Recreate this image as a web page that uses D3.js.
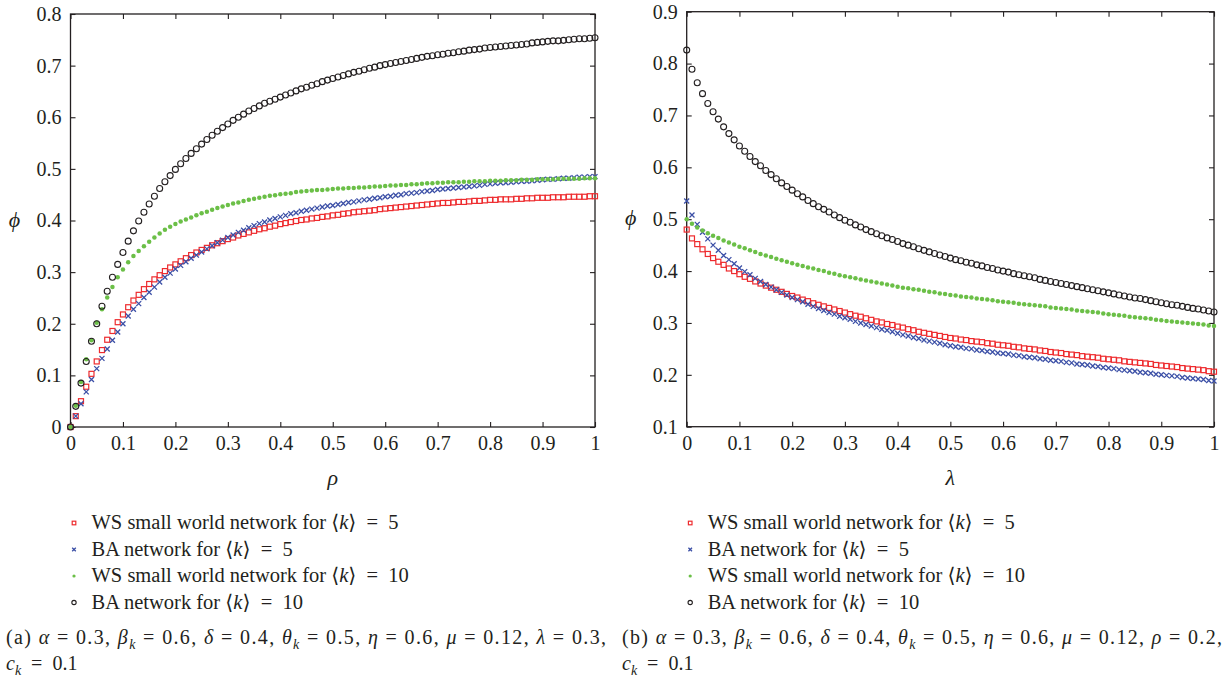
<!DOCTYPE html>
<html>
<head>
<meta charset="utf-8">
<script src="https://cdn.jsdelivr.net/npm/d3@7"></script>
<style>
  body { margin: 0; background: #fff; }
  svg text { white-space: pre; fill: #231f20; font-family: "Liberation Serif", "Times New Roman", "DejaVu Serif", serif; }
  .axis text { font-size: 20px; }
  .axis line { stroke: #231f20; stroke-width: 1.1; }
  .axis path { display: none; }
</style>
</head>
<body>
<svg id="chart" width="1229" height="682"></svg>
<script>
// x grid: 0, 0.01, ... 1 (101 samples, same for both panels)
var xs = d3.range(101).map(function(i) { return i / 100; });

// panel (a): phi vs rho
var wsK5_a = [0, .021, .050, .078, .103, .127, .149, .169, .186, .203, .218, .232, .245, .256, .267, .277, .286, .294, .302, .309, .315,
  .321, .327, .333, .338, .343, .347, .352, .356, .360, .364,
  .367, .371, .374, .377, .380, .383, .385, .388, .390, .393,
  .395, .397, .399, .401, .402, .404, .405, .407, .408, .410,
  .411, .413, .414, .416, .417, .418, .419, .420, .422, .423,
  .424, .425, .426, .427, .428, .429, .430, .431, .432, .433,
  .434, .434, .435, .436, .436, .437, .438, .438, .439, .440,
  .440, .441, .441, .441, .442, .442, .443, .443, .444, .444,
  .444, .445, .445, .445, .446, .446, .446, .446, .447, .447];
var baK5_a = [0, .021, .045, .068, .092, .113, .133, .151, .168, .184, .200, .215, .228, .239, .251, .261, .271, .281, .290, .298, .306,
  .313, .320, .327, .333, .339, .345, .351, .357, .362, .367,
  .372, .377, .381, .386, .390, .394, .397, .401, .404, .407,
  .410, .413, .415, .418, .420, .422, .424, .426, .428, .429,
  .431, .433, .435, .436, .438, .440, .441, .443, .444, .446,
  .447, .449, .450, .452, .453, .454, .456, .457, .458, .460,
  .461, .462, .463, .464, .465, .466, .467, .468, .470, .471,
  .472, .473, .473, .474, .475, .476, .476, .477, .478, .479,
  .480, .480, .481, .482, .482, .483, .484, .484, .485, .485];
var wsK10_a = [0, .041, .087, .131, .168, .202, .228, .251, .271, .290, .305, .319, .331, .341, .350, .359, .367, .375, .382, .388, .393,
  .398, .402, .406, .410, .414, .417, .421, .424, .427, .430,
  .433, .435, .438, .440, .442, .444, .446, .448, .449, .451,
  .452, .453, .455, .456, .457, .458, .459, .459, .460, .461,
  .462, .462, .463, .463, .464, .464, .465, .466, .466, .467,
  .468, .468, .469, .469, .470, .470, .471, .472, .472, .473,
  .473, .474, .474, .474, .475, .475, .476, .476, .476, .477,
  .477, .477, .478, .478, .478, .479, .479, .479, .480, .480,
  .480, .480, .481, .481, .481, .481, .481, .482, .482, .482];
var baK10_a = [0, .040, .085, .127, .166, .200, .234, .263, .290, .315, .338, .360, .380, .399, .416, .432, .447, .462, .475, .487, .499,
  .510, .520, .530, .539, .548, .557, .565, .573, .580, .587,
  .594, .600, .606, .612, .617, .622, .627, .631, .635, .639,
  .643, .647, .651, .655, .658, .662, .665, .669, .672, .675,
  .678, .681, .684, .687, .689, .692, .695, .697, .700, .702,
  .704, .706, .708, .710, .712, .714, .716, .718, .719, .721,
  .722, .724, .725, .727, .728, .730, .731, .732, .734, .735,
  .736, .737, .738, .739, .740, .741, .742, .744, .745, .746,
  .747, .748, .748, .749, .750, .751, .752, .752, .753, .754];

// panel (b): phi vs lambda
var wsK5_b = [.480, .463, .452, .442, .433, .425, .418, .412, .405, .400, .394,
  .389, .385, .380, .376, .372, .368, .364, .360, .356, .352,
  .349, .345, .342, .338, .335, .332, .329, .326, .323, .320,
  .317, .314, .312, .309, .306, .303, .301, .298, .296, .293,
  .291, .288, .286, .283, .281, .279, .277, .275, .273, .271,
  .270, .268, .267, .265, .264, .263, .261, .260, .258, .257,
  .256, .254, .253, .251, .250, .249, .247, .246, .244, .243,
  .242, .240, .239, .238, .236, .235, .234, .233, .231, .230,
  .229, .228, .226, .225, .224, .223, .222, .221, .219, .218,
  .217, .216, .215, .213, .212, .211, .210, .209, .207, .206];
var baK5_b = [.535, .508, .490, .475, .462, .450, .440, .430, .422, .414, .406,
  .399, .393, .386, .380, .374, .369, .364, .359, .354, .349,
  .345, .341, .336, .332, .328, .324, .320, .317, .313, .310,
  .307, .303, .300, .297, .294, .291, .288, .286, .283, .280,
  .277, .275, .272, .270, .267, .265, .263, .261, .258, .256,
  .254, .253, .251, .250, .248, .247, .245, .244, .242, .241,
  .240, .238, .237, .235, .234, .233, .231, .230, .228, .227,
  .226, .224, .223, .221, .220, .219, .217, .216, .214, .213,
  .212, .210, .209, .208, .207, .205, .204, .203, .201, .200,
  .199, .198, .197, .195, .194, .193, .192, .191, .189, .188];
var wsK10_b = [.500, .491, .484, .478, .473, .468, .464, .459, .455, .451, .447,
  .444, .440, .437, .433, .430, .427, .424, .421, .418, .415,
  .412, .410, .407, .405, .402, .400, .397, .395, .392, .390,
  .388, .386, .384, .382, .380, .378, .376, .374, .372, .370,
  .368, .367, .365, .364, .362, .360, .359, .357, .356, .354,
  .353, .351, .350, .349, .347, .346, .345, .344, .342, .341,
  .340, .339, .337, .336, .335, .334, .333, .332, .330, .329,
  .328, .327, .326, .324, .323, .322, .321, .320, .318, .317,
  .316, .315, .314, .312, .311, .310, .309, .308, .306, .305,
  .304, .303, .302, .301, .300, .299, .298, .297, .295, .294];
var baK10_b = [.826, .789, .763, .742, .723, .707, .693, .678, .665, .653, .641,
  .631, .621, .611, .603, .594, .586, .578, .570, .563, .556,
  .549, .543, .536, .530, .524, .519, .514, .508, .503, .498,
  .494, .489, .485, .480, .476, .472, .468, .464, .461, .457,
  .453, .450, .447, .443, .440, .437, .434, .431, .428, .425,
  .422, .420, .417, .415, .412, .410, .407, .405, .402, .400,
  .398, .395, .393, .391, .389, .387, .384, .382, .380, .378,
  .376, .374, .372, .370, .368, .366, .364, .362, .360, .358,
  .356, .354, .352, .350, .348, .347, .345, .343, .341, .339,
  .337, .335, .334, .332, .330, .328, .327, .325, .323, .321];

var xTicks = [0, 0.1, 0.2, 0.3, 0.4, 0.5, 0.6, 0.7, 0.8, 0.9, 1];
var xTickLabels = ['0', '0.1', '0.2', '0.3', '0.4', '0.5', '0.6', '0.7', '0.8', '0.9', '1'];
var yTicksA = [0, 0.1, 0.2, 0.3, 0.4, 0.5, 0.6, 0.7, 0.8];
var yTickLabelsA = ['0', '0.1', '0.2', '0.3', '0.4', '0.5', '0.6', '0.7', '0.8'];
var yTicksB = [0.1, 0.2, 0.3, 0.4, 0.5, 0.6, 0.7, 0.8, 0.9];
var yTickLabelsB = ['0.1', '0.2', '0.3', '0.4', '0.5', '0.6', '0.7', '0.8', '0.9'];

var seriesNames = ['WS small world network for ', 'BA network for ', 'WS small world network for ', 'BA network for '];
var seriesK = ['5', '5', '10', '10'];
var seriesShapes = ['square', 'cross', 'dot', 'ring'];
var colors = ['#ee2b2e', '#3b4fa6', '#6bbf47', '#231f20'];

var svg = d3.select('#chart');

// writes runs of text: '' plain, 'i' italic, 's' italic subscript
function rich(text, parts) {
  var shifted = false;
  parts.forEach(function(p) {
    var t = text.append('tspan').text(p[0]);
    if (p[1] === 'i' || p[1] === 's') t.style('font-style', 'italic');
    if (p[1] === 's') {
      t.attr('dy', 5).style('font-size', '14px');
      shifted = true;
    } else if (shifted) {
      t.attr('dy', -5);
      shifted = false;
    }
  });
}

function marker(g, shape, color, s) {
  if (shape === 'square') {
    g.append('rect').attr('x', -s).attr('y', -s).attr('width', 2 * s).attr('height', 2 * s)
      .attr('fill', 'none').attr('stroke', color).attr('stroke-width', 1.2);
  } else if (shape === 'cross') {
    g.append('path').attr('d', 'M' + -s + ',' + -s + 'L' + s + ',' + s + 'M' + -s + ',' + s + 'L' + s + ',' + -s)
      .attr('stroke', color).attr('stroke-width', 1.3);
  } else if (shape === 'dot') {
    g.append('circle').attr('r', s * 0.9).attr('fill', color);
  } else {
    g.append('circle').attr('r', s * 1.2).attr('fill', 'none').attr('stroke', color).attr('stroke-width', 1.1);
  }
}

function panel(p) {
  var x = d3.scaleLinear().domain([0, 1]).range([p.left, p.right]);
  var y = d3.scaleLinear().domain(p.yDomain).range([p.bottom, p.top]);
  var fmtX = function(d, i) { return xTickLabels[i]; };
  var fmtY = function(d, i) { return p.yLabels[i]; };

  svg.append('g').attr('class', 'axis').attr('transform', 'translate(0,' + p.bottom + ')')
    .call(d3.axisBottom(x).tickValues(xTicks).tickFormat(fmtX).tickSizeInner(-5).tickSizeOuter(0).tickPadding(9));
  svg.append('g').attr('class', 'axis').attr('transform', 'translate(0,' + p.top + ')')
    .call(d3.axisTop(x).tickValues(xTicks).tickFormat('').tickSizeInner(-5).tickSizeOuter(0));
  svg.append('g').attr('class', 'axis').attr('transform', 'translate(' + p.left + ',0)')
    .call(d3.axisLeft(y).tickValues(p.yTicks).tickFormat(fmtY).tickSizeInner(-5).tickSizeOuter(0).tickPadding(9));
  svg.append('g').attr('class', 'axis').attr('transform', 'translate(' + p.right + ',0)')
    .call(d3.axisRight(y).tickValues(p.yTicks).tickFormat('').tickSizeInner(-5).tickSizeOuter(0));

  svg.append('rect').attr('x', p.left).attr('y', p.top)
    .attr('width', p.right - p.left).attr('height', p.bottom - p.top)
    .attr('fill', 'none').attr('stroke', '#231f20').attr('stroke-width', 1.3);

  p.series.forEach(function(vals, k) {
    svg.append('g').selectAll('g')
      .data(vals)
      .join('g')
      .attr('transform', function(d, i) { return 'translate(' + x(xs[i]) + ',' + y(d) + ')'; })
      .each(function() { marker(d3.select(this), seriesShapes[k], colors[k], 2.5); });
  });

  svg.append('text').attr('x', (p.left + p.right) / 2).attr('y', 485)
    .attr('text-anchor', 'middle').style('font-size', '22px').style('font-style', 'italic').text(p.xName);
  svg.append('text').attr('x', p.left - 56).attr('y', (p.top + p.bottom) / 2 + 6)
    .attr('text-anchor', 'middle').style('font-size', '22px').style('font-style', 'italic').text('\u03D5');

  // legend
  seriesNames.forEach(function(name, k) {
    var yy = 523 + k * 26.5;
    var g = svg.append('g').attr('transform', 'translate(' + (p.left + 3.5) + ',' + yy + ')');
    marker(g, seriesShapes[k], colors[k], 1.8);
    var t = svg.append('text').attr('x', p.left + 21).attr('y', yy + 6).style('font-size', '20.5px');
    rich(t, [[name + '\u27E8', ''], ['k', 'i'], ['\u27E9\u2002=\u2002' + seriesK[k], '']]);
  });

  // caption (justified to the column width)
  var c1 = svg.append('text').attr('x', p.capX).attr('y', 644).style('font-size', '20px')
    .attr('textLength', 600).attr('lengthAdjust', 'spacing');
  rich(c1, p.caption);
  var c2 = svg.append('text').attr('x', p.capX).attr('y', 670).style('font-size', '20px');
  rich(c2, [['c', 'i'], ['k', 's'], ['\u2002=\u20020.1', '']]);
}

var capCommon = [['\u03B1', 'i'], [' = 0.3, ', ''], ['\u03B2', 'i'], ['k', 's'], [' = 0.6, ', ''],
  ['\u03B4', 'i'], [' = 0.4, ', ''], ['\u03B8', 'i'], ['k', 's'], [' = 0.5, ', ''],
  ['\u03B7', 'i'], [' = 0.6, ', ''], ['\u03BC', 'i'], [' = 0.12, ', '']];

panel({
  left: 70.5, right: 595, top: 14, bottom: 427,
  yDomain: [0, 0.8], yTicks: yTicksA, yLabels: yTickLabelsA,
  series: [wsK5_a, baK5_a, wsK10_a, baK10_a],
  xName: '\u03C1', capX: 6,
  caption: [['(a) ', '']].concat(capCommon, [['\u03BB', 'i'], [' = 0.3,', '']])
});
panel({
  left: 686.7, right: 1214, top: 11.7, bottom: 426.7,
  yDomain: [0.1, 0.9], yTicks: yTicksB, yLabels: yTickLabelsB,
  series: [wsK5_b, baK5_b, wsK10_b, baK10_b],
  xName: '\u03BB', capX: 622,
  caption: [['(b) ', '']].concat(capCommon, [['\u03C1', 'i'], [' = 0.2,', '']])
});
</script>
</body>
</html>
